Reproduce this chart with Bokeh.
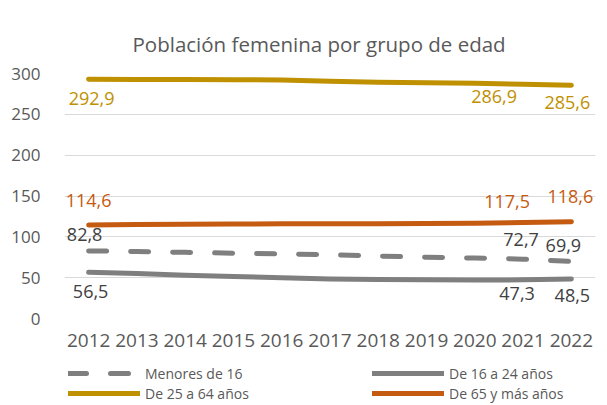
from bokeh.plotting import figure
from bokeh.layouts import column
from bokeh.models import ColumnDataSource, Range1d, FactorRange, Legend, LegendItem, SingleIntervalTicker
from bokeh.core.properties import value
from bokeh.embed import file_html
from bokeh.resources import INLINE

title_text = "Población femenina por grupo de edad"
years = ["2012", "2013", "2014", "2015", "2016", "2017", "2018", "2019", "2020", "2021", "2022"]

menores_16 = [82.8, 82.0, 81.0, 80.0, 79.0, 78.0, 76.5, 75.0, 74.0, 72.7, 69.9]
de_16_24 = [56.5, 55.0, 53.0, 51.5, 50.0, 48.5, 47.8, 47.3, 47.0, 47.3, 48.5]
de_25_64 = [292.9, 292.8, 292.6, 292.4, 292.0, 290.5, 289.3, 288.6, 288.0, 286.9, 285.6]
de_65_mas = [114.6, 115.0, 115.3, 115.6, 115.9, 116.0, 116.1, 116.3, 116.6, 117.5, 118.6]

series_names = ["Menores de 16", "De 16 a 24 años", "De 25 a 64 años", "De 65 y más años"]
label_idx = [0, 9, 10]

FONT = "Open Sans"
GRAY_TXT = "#595959"

p = figure(
    width=607, height=360,
    x_range=FactorRange(*years), y_range=Range1d(0, 300),
    output_backend="svg", toolbar_location=None,
    min_border_left=64, min_border_right=12, min_border_top=73, min_border_bottom=42,
    title=title_text,
)
p.outline_line_color = None
p.background_fill_color = "white"
p.border_fill_color = "white"

p.title.text_font = FONT
p.title.text_font_size = "20.5px"
p.title.text_font_style = "normal"
p.title.text_color = GRAY_TXT
p.title.align = "left"
p.title.offset = 68
p.title.standoff = 32

p.xgrid.grid_line_color = None
p.ygrid.grid_line_color = "#D9D9D9"
p.ygrid.grid_line_width = 1
p.yaxis.ticker = SingleIntervalTicker(interval=50)

for ax in (p.xaxis, p.yaxis):
    ax.axis_line_color = None
    ax.major_tick_line_color = None
    ax.minor_tick_line_color = None
    ax.major_label_text_font = FONT
    ax.major_label_text_color = GRAY_TXT
p.yaxis.major_label_text_font_size = "17px"
p.xaxis.major_label_text_font_size = "19px"
p.yaxis.major_label_standoff = 18
p.xaxis.major_label_standoff = 9

# style: line colour, dash, label colour, label x offsets, label y offsets (px)
specs = [
    (menores_16, "#7F7F7F", "18 24", "#404040", [-4, -2, -8], [-16, -20, -16]),
    (de_16_24, "#7F7F7F", "solid", "#404040", [2, -6, 1], [19, 14, 17]),
    (de_25_64, "#BF9000", "solid", "#BF9000", [3, -29, -4], [19, 12, 17]),
    (de_65_mas, "#C55A11", "solid", "#C55A11", [0, -16, -1], [-24, -21, -25]),
]

# legend strip below the chart (its frame is aligned with the chart's frame)
lg = figure(
    width=607, height=45, x_range=FactorRange(*years), y_range=Range1d(1000, 1001),
    output_backend="svg", toolbar_location=None,
    x_axis_location=None, y_axis_location=None,
    min_border_left=0, min_border_right=0, min_border_top=0, min_border_bottom=0,
)
lg.outline_line_color = None
lg.xgrid.grid_line_color = None
lg.ygrid.grid_line_color = None
lg.border_fill_color = "white"

items = []
for name, (vals, color, dash, lcolor, xoffs, yoffs) in zip(series_names, specs):
    src = ColumnDataSource(dict(x=years, y=vals))
    p.line("x", "y", source=src, line_color=color, line_width=5,
           line_dash=dash, line_cap="round", line_join="round")
    lsrc = ColumnDataSource(dict(
        x=[years[i] for i in label_idx],
        y=[vals[i] for i in label_idx],
        t=[f"{vals[i]:.1f}".replace(".", ",") for i in label_idx],
        xo=xoffs, yo=yoffs,
    ))
    p.text("x", "y", text="t", source=lsrc, text_font=value(FONT),
           text_font_size="18px", text_color=lcolor, text_align="center",
           text_baseline="middle", x_offset="xo", y_offset="yo")
    # same series drawn in the legend strip, outside its visible y range
    r = lg.line("x", "y", source=src, line_color=color, line_width=5,
                line_dash=dash, line_cap="round")
    items.append(LegendItem(label=name, renderers=[r]))

for row_items, loc in ((items[0:2], (4, 22)), (items[2:4], (4, 2))):
    legend = Legend(
        items=row_items, orientation="horizontal",
        location=loc, margin=0, padding=0, spacing=117,
        glyph_width=72, glyph_height=20, label_width=110, label_height=20,
        label_standoff=5, label_text_font=FONT, label_text_font_size="14px",
        label_text_color=GRAY_TXT, border_line_color=None, background_fill_alpha=0,
    )
    lg.add_layout(legend, "center")

layout = column(p, lg, spacing=0)
open("out.html", "w").write(file_html(layout, INLINE))
